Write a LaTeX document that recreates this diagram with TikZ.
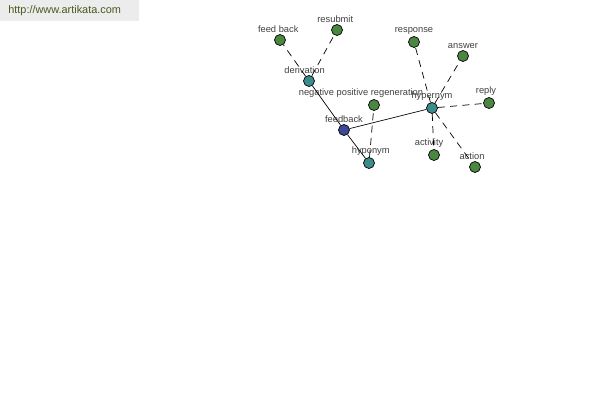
\documentclass[tikz,border=0pt]{standalone}
\usepackage{fontspec}
\setmainfont{Liberation Sans}
\usetikzlibrary{positioning}
\definecolor{leafgreen}{RGB}{74,136,66}
\definecolor{relteal}{RGB}{60,140,140}
\definecolor{rootblue}{RGB}{62,72,150}
\definecolor{urlgreen}{RGB}{70,90,30}
\definecolor{urlgray}{RGB}{236,236,236}
\tikzset{
	word/.style={
		circle, draw=black, fill=leafgreen, minimum size=0.22cm,
		inner sep=0pt, line width=0.4pt,
		label distance=-0.5pt
	},
	relation/.style={word, fill=relteal},
	root/.style={word, fill=rootblue},
	lbl/.style={font=\fontsize{5.3}{6}\selectfont, text=black!75, inner sep=0.5pt},
	solid_link/.style={line width=0.4pt},
	dash_link/.style={line width=0.4pt, dash pattern=on 4pt off 3pt}
}
\begin{document}
\begin{tikzpicture}[x=0.02cm, y=-0.02cm]
	\useasboundingbox (0,0) rectangle (600,400);
	\fill[urlgray] (0,0) rectangle (139,21);
	\node[anchor=west, text=urlgreen, font=\fontsize{6.2}{7}\selectfont, inner sep=0pt] (url) at (8,11) {http://www.artikata.com};
	% centre and the three relations
	\node[root, label={[lbl]above:feedback}] (feedback) at (344,130) {};
	\node[relation, label={[lbl, xshift=-2.5pt]above:derivation}] (derivation) at (309,81) {};
	\node[relation, label={[lbl]above:hypernym}] (hypernym) at (432,108) {};
	\node[relation, label={[lbl, xshift=1pt]above:hyponym}] (hyponym) at (369,163) {};
	% words
	\node[word, label={[lbl, xshift=-1pt]above:feed back}] (feedback2) at (280,40) {};
	\node[word, label={[lbl, xshift=-1pt]above:resubmit}] (resubmit) at (337,30) {};
	\node[word, label={[lbl, xshift=-7.4pt]above:negative positive regeneration}] (regeneration) at (374,105) {};
	\node[word, label={[lbl]above:response}] (response) at (414,42) {};
	\node[word, label={[lbl]above:answer}] (answer) at (463,56) {};
	\node[word, label={[lbl, xshift=-1.7pt]above:reply}] (reply) at (489,103) {};
	\node[word, label={[lbl, xshift=-2.8pt]above:activity}] (activity) at (434,155) {};
	\node[word, label={[lbl, xshift=-1.7pt]above:action}] (action) at (475,167) {};
	% links
	\draw[solid_link] (feedback) -- (derivation);
	\draw[solid_link] (feedback) -- (hypernym);
	\draw[solid_link] (feedback) -- (hyponym);
	\draw[dash_link] (derivation) -- (feedback2);
	\draw[dash_link] (derivation) -- (resubmit);
	\draw[dash_link] (hyponym) -- (regeneration);
	\draw[dash_link] (hypernym) -- (response);
	\draw[dash_link] (hypernym) -- (answer);
	\draw[dash_link] (hypernym) -- (reply);
	\draw[dash_link] (hypernym) -- (activity);
	\draw[dash_link] (hypernym) -- (action);
\end{tikzpicture}
\end{document}
